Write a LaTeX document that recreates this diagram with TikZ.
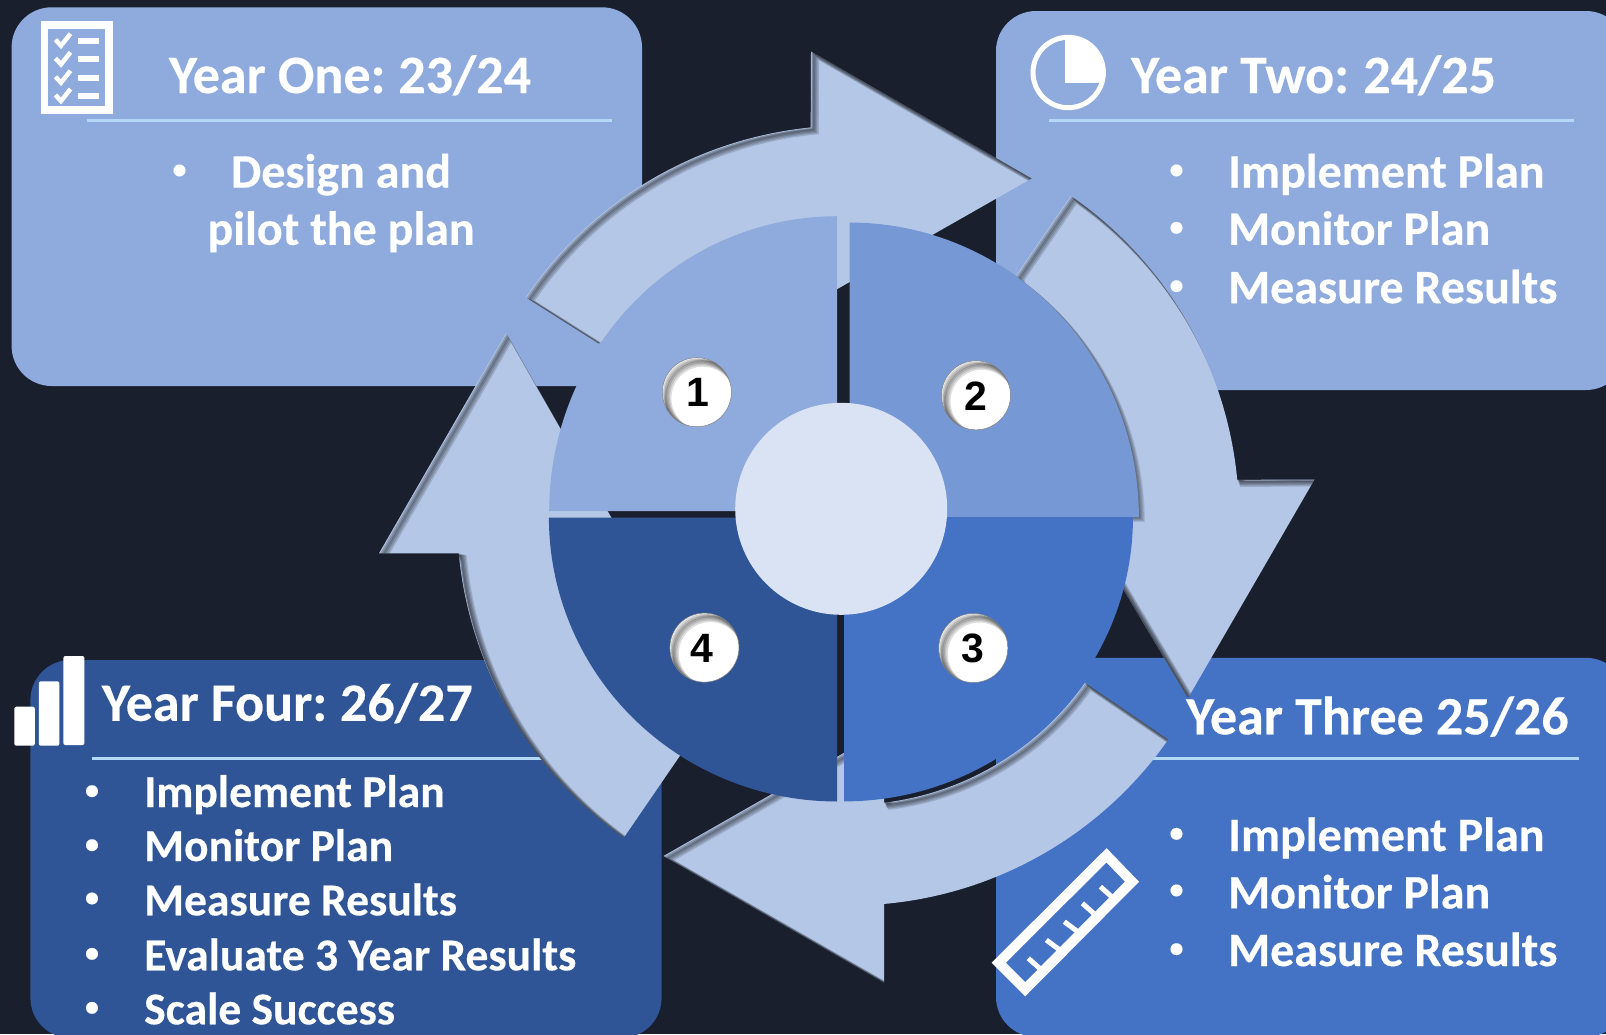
\documentclass[tikz,border=0pt]{standalone}
\usepackage{fontspec}
\setmainfont{Carlito}[BoldFeatures={FakeBold=0.35}]
\newfontfamily\numfont{Liberation Sans}
\definecolor{bgc}{HTML}{1A1F2E}
\definecolor{boxa}{HTML}{8FAADC}
\definecolor{boxc}{HTML}{4472C4}
\definecolor{boxd}{HTML}{2F5597}
\definecolor{wedgeb}{HTML}{7698D4}
\definecolor{arrowc}{HTML}{B4C7E7}
\definecolor{hubc}{HTML}{DAE3F3}
\definecolor{rulec}{HTML}{B4D9F7}
\tikzset{
  cardbox/.style={rounded corners=40pt},
  rulerline/.style={draw=rulec,line width=2.6pt},
  titletext/.style={anchor=base west,inner sep=0pt,text=white,font=\fontsize{54}{54}\selectfont\bfseries},
  itemtext/.style={anchor=base west,inner sep=0pt,text=white,font=\fontsize{48}{48}\selectfont\bfseries},
  itemsmall/.style={anchor=base west,inner sep=0pt,text=white,font=\fontsize{45.6}{46}\selectfont\bfseries},
  centertext/.style={anchor=base,inner sep=0pt,text=white,font=\fontsize{48}{48}\selectfont\bfseries},
  bullettext/.style={anchor=base,inner sep=0pt,text=white,font=\fontsize{28}{28}\selectfont\bfseries},
  numbertext/.style={inner sep=0pt,text=black,font=\fontsize{41}{41}\selectfont\numfont\bfseries},
}
\def\arrowtop{(598.5,343.3) -- plot[domain=214.1:264.3,samples=50] ({849.5+391*cos(\x)},{516.5+391*sin(\x)}) -- (811,51.5) -- (1031.5,178.5) -- (811,304) -- cycle}
\def\arrowright{(1016.5,275) -- plot[domain=304.6:354.6,samples=50] ({849.5+389.5*cos(\x)},{516.5+389.5*sin(\x)}) -- (1314.5,479.5) -- (1188,698) -- (1058,480) -- cycle}
\def\arrowbottom{(1084.6,682.5) -- plot[domain=35:84.9,samples=50] ({849.5+389*cos(\x)},{516.5+389*sin(\x)}) -- (884,982.5) -- (663.5,856) -- (884,730) -- (884,802) -- plot[domain=83:35.4,samples=50] ({849.5+288.3*cos(\x)},{516.5+288.3*sin(\x)}) -- cycle}
\def\arrowleft{(680.8,754.5) -- plot[domain=125.1:174.6,samples=50] ({849.5+392.5*cos(\x)},{516.5+392.5*sin(\x)}) -- (379,553.3) -- (506,333) -- (632,553.3) -- cycle}
\def\wedgeA{(837.2,511.2) -- plot[domain=180:270,samples=60] ({837.2+288*cos(\x)},{511.2+295*sin(\x)}) -- cycle}
\def\wedgeB{(849.5,517.1) -- plot[domain=270:360,samples=60] ({849.5+289.4*cos(\x)},{517.1+294.6*sin(\x)}) -- cycle}
\def\wedgeC{(844,517.1) -- plot[domain=0:90,samples=60] ({844+289*cos(\x)},{517.1+284.3*sin(\x)}) -- cycle}
\def\wedgeD{(837.2,517.5) -- plot[domain=90:180,samples=60] ({837.2+288.3*cos(\x)},{517.5+284*sin(\x)}) -- cycle}
\newcommand{\inshadow}[1]{%
  \begin{scope}
    \clip #1;
    \foreach \o in {1,2,3,4,5,6}{
      \draw[black,opacity=.14,line width=\o*0.9pt,xshift=\o*0.9pt,yshift=-\o*0.72pt] #1;
    }
  \end{scope}}
\newcommand{\dropshadow}[1]{%
  \foreach \o in {1,2,3,4,5,6}{
    \fill[black,opacity=.09,xshift=\o*1pt,yshift=-\o*0.8pt] #1;
  }}
\newcommand{\numberdot}[2]{%
  \fill[white] (#1,#2) circle[radius=34.5pt];
  \begin{scope}
    \clip (#1,#2) circle[radius=34.5pt];
    \foreach \o in {1,2,3,4,5,6}{
      \draw[black,opacity=.13,line width=\o*1pt,xshift=\o*1pt,yshift=-\o*1pt] (#1,#2) circle[radius=34.5pt];
    }
  \end{scope}
  \draw[gray,line width=.5pt] (#1,#2) circle[radius=34.5pt];
}
\begin{document}
\begin{tikzpicture}[x=1pt,y=-1pt]
\useasboundingbox (0,0) rectangle (1606,1034);
\fill[bgc] (0,0) rectangle (1606,1034);
% cards
\begin{scope}
\clip (0,0) rectangle (1606,1034);
\fill[boxa,cardbox] (11.6,7.3) rectangle (642,386);
\fill[boxa,cardbox] (996,11) rectangle (1626,390);
\fill[boxc,cardbox] (996,657.8) rectangle (1626,1037);
\fill[boxd,cardbox] (30.4,660) rectangle (661.6,1038);
\end{scope}
% rules
\draw[rulerline] (87,120.7) coordinate (ra) -- (612,120.7) coordinate (rb);
\draw[rulerline] (1049,120.7) coordinate (rc) -- (1574,120.7) coordinate (rd);
\draw[rulerline] (1053,758.4) coordinate (re) -- (1578.5,758.4) coordinate (rf);
\draw[rulerline] (92,758.4) coordinate (rg) -- (617,758.4) coordinate (rh);
% arrows
\fill[arrowc] \arrowtop;
\inshadow{\arrowtop}
\fill[arrowc] \arrowright;
\inshadow{\arrowright}
\fill[arrowc] \arrowbottom;
\inshadow{\arrowbottom}
\fill[arrowc] \arrowleft;
\inshadow{\arrowleft}
% wedges
\dropshadow{\wedgeB}
\fill[boxa] \wedgeA;
\fill[wedgeb] \wedgeB;
\fill[boxc] \wedgeC;
\fill[boxd] \wedgeD;
\fill[hubc] (841.2,508.8) circle[radius=106pt];
% number dots
\numberdot{696.9}{392.2}
\numberdot{976}{395.3}
\numberdot{973.3}{648}
\numberdot{704.4}{647.6}
\node[numbertext] (n1) at (698,392.6) {1};
\node[numbertext] (n2) at (976,396) {2};
\node[numbertext] (n3) at (972.5,648) {3};
\node[numbertext] (n4) at (702,648) {4};
% titles
\node[titletext] (t1) at (168.8,93) {Year One:\kern-3.5pt{} 23/24};
\node[titletext] (t2) at (1131,93) {Year Two:\kern-2pt{} 24/25};
\node[titletext] (t3) at (1186,734.3) {Year Three 25/26};
\node[titletext] (t4) at (101.8,720.8) {Year Four:\kern-3.5pt{} 26/27};
% card 1
\node[bullettext] (b11) at (179.5,178.3) {•};
\node[centertext] (a11) at (341,187.5) {Design and};
\node[centertext] (a12) at (341,244.8) {pilot the plan};
% card 2
\node[bullettext] (b21) at (1176.5,178.3) {•};
\node[bullettext] (b22) at (1176.5,235.7) {•};
\node[bullettext] (b23) at (1176.5,294) {•};
\node[itemtext] (a21) at (1228,187.5) {Implement Plan};
\node[itemtext] (a22) at (1228,244.8) {Monitor Plan};
\node[itemtext] (a23) at (1228,303.2) {Measure Results};
% card 3
\node[bullettext] (b31) at (1176.5,841.7) {•};
\node[bullettext] (b32) at (1176.5,898.3) {•};
\node[bullettext] (b33) at (1176.5,957) {•};
\node[itemtext] (a31) at (1228,851) {Implement Plan};
\node[itemtext] (a32) at (1228,908.4) {Monitor Plan};
\node[itemtext] (a33) at (1228,966) {Measure Results};
% card 4
\node[bullettext] (b41) at (92,799) {•};
\node[bullettext] (b42) at (92,853) {•};
\node[bullettext] (b43) at (92,906.3) {•};
\node[bullettext] (b44) at (92,961.7) {•};
\node[bullettext] (b45) at (92,1015.7) {•};
\node[itemsmall] (a41) at (144,807) {Implement Plan};
\node[itemsmall] (a42) at (144,861) {Monitor Plan};
\node[itemsmall] (a43) at (144,915.3) {Measure Results};
\node[itemsmall] (a44) at (144,970.3) {Evaluate 3 Year Results};
\node[itemsmall] (a45) at (144,1024.3) {Scale Success};
% checklist icon
\draw[white,line width=7.8pt] (44.5,24.7) rectangle (108.9,110);
\foreach \yy in {40.7,59.3,77.7,96}{
  \fill[white] (78,\yy-3) rectangle (99,\yy+3);
  \draw[white,line width=4.5pt] (55.5,\yy-1) -- (61,\yy+5) -- (70.5,\yy-7);
}
% clock icon
\draw[white,line width=5pt] (1068.2,72.5) circle[radius=35.2pt];
\begin{scope}
\clip (1068.2,72.5) circle[radius=36pt];
\fill[white] (1064.8,35) rectangle (1106,82.7);
\end{scope}
% bars icon
\fill[white,rounded corners=2pt] (14.3,706.7) rectangle (34.8,745.7);
\fill[white,rounded corners=2pt] (38.8,681.3) rectangle (59.4,745.7);
\fill[white,rounded corners=2pt] (63.4,656) rectangle (84.4,745);
% ruler icon
\draw[white,line width=10pt,miter limit=10] (1106.5,855.3) -- (1132,881.7) -- (1025.2,989.2) -- (998.7,962.7) -- cycle;
\draw[white,line width=5pt] (1100.4,886.7) -- (1111.6,896.7);
\draw[white,line width=5pt] (1082.4,903.3) -- (1093.6,913.3);
\draw[white,line width=5pt] (1064.3,921.7) -- (1077.8,931.7);
\draw[white,line width=5pt] (1046.3,940) -- (1059.8,950);
\draw[white,line width=5pt] (1028.3,958.3) -- (1039.6,968.3);
\end{tikzpicture}
\end{document}
